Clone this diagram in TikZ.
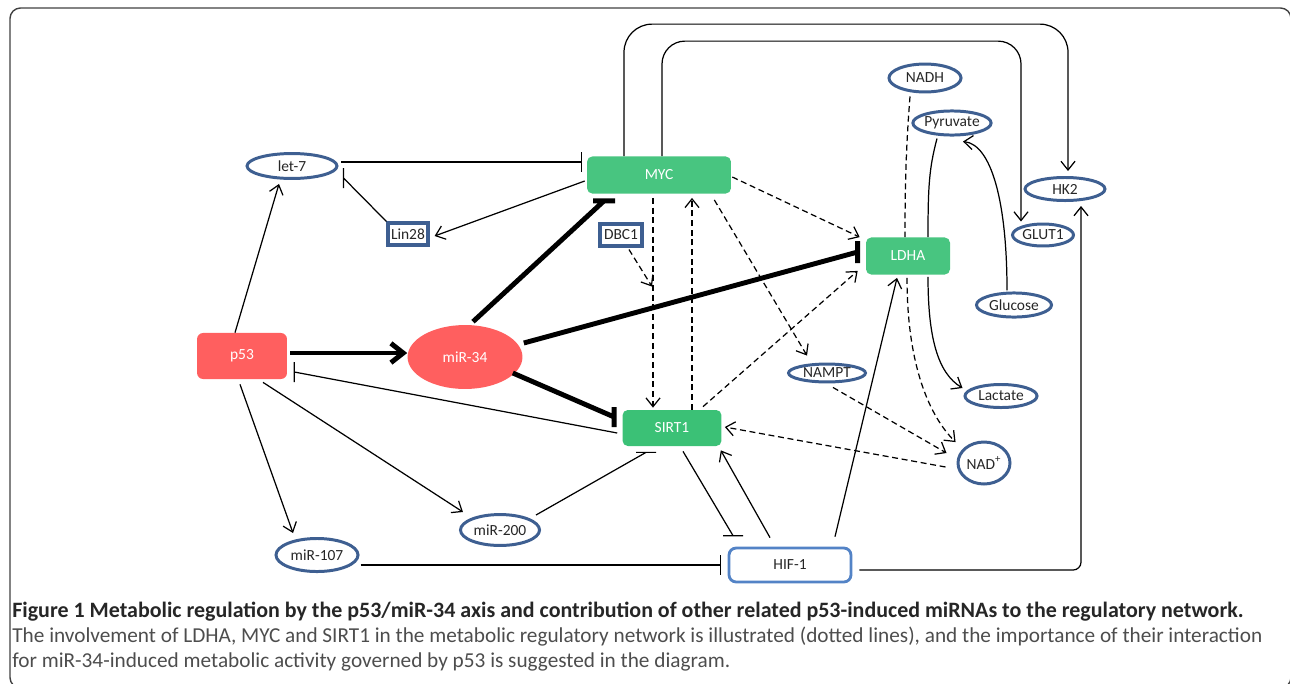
\documentclass[tikz,border=0pt]{standalone}
\usepackage{fontspec}
\setmainfont{Carlito}
\usetikzlibrary{arrows.meta,calc,shapes.geometric}
\definecolor{pred}{HTML}{FF5F5F}
\definecolor{mgreen}{HTML}{48C580}
\definecolor{sgreen}{HTML}{3BC176}
\definecolor{oblue}{HTML}{3E5F91}
\definecolor{hblue}{HTML}{5383C6}
\definecolor{capgray}{HTML}{4D4D4D}

\begin{document}
\begin{tikzpicture}[x=0.02cm,y=-0.02cm,
    font=\fontsize{8.8}{10}\selectfont,
    every node/.style={inner sep=0pt},
    redbox/.style={fill=pred,text=white,rounded corners=3.5pt},
    greenbox/.style={fill=mgreen,text=white,rounded corners=3pt},
    oval/.style={ellipse,draw=oblue,line width=1.7pt,text=black!85},
    sqbox/.style={draw=oblue,line width=1.8pt,text=black!85},
    hifbox/.style={draw=hblue,line width=1.6pt,rounded corners=4pt,text=black!85},
    link/.style={line width=0.7pt},
    act/.style={link,-{Straight Barb[length=5pt,width=8pt]}},
    dlink/.style={link,dash pattern=on 3.4pt off 2.1pt},
    dact/.style={dlink,-{Straight Barb[length=5pt,width=8pt]}},
    heavy/.style={line width=2.8pt},
    hact/.style={heavy,-{Straight Barb[length=7pt,width=11pt]}}]
  \useasboundingbox (0,0) rectangle (1290,683);
  \draw[line width=0.8pt,black!75,rounded corners=6pt] (10,8) rectangle (1291,688);
  \draw
    (242,356) node[redbox,minimum width=51.2pt,minimum height=26.2pt] (p53){p53}
    (465,357) node[ellipse,fill=pred,text=white,minimum width=65.4pt,minimum height=36.4pt] (mir34){miR-34}
    (292,166) node[oval,minimum width=51.2pt,minimum height=14.2pt] (let7){let-7}
    (408,234) node[sqbox,minimum width=22.8pt,minimum height=12.5pt] (lin28){Lin28}
    (659,175) node[greenbox,minimum width=81.9pt,minimum height=21.1pt] (myc){MYC}
    (621,235) node[sqbox,minimum width=23.9pt,minimum height=12.5pt] (dbc1){DBC1}
    (908,256) node[greenbox,minimum width=47.8pt,minimum height=21.1pt] (ldha){LDHA}
    (672,428) node[greenbox,fill=sgreen,minimum width=56.3pt,minimum height=20.5pt] (sirt1){SIRT1}
    (925,78) node[oval,minimum width=41pt,minimum height=15.9pt] (nadh){NADH}
    (952,123) node[oval,minimum width=43.8pt,minimum height=13.7pt] (pyruvate){Pyruvate}
    (1065,189) node[oval,minimum width=45.5pt,minimum height=13.1pt] (hk2){HK2}
    (1043,235) node[oval,minimum width=34.7pt,minimum height=12.5pt] (glut1){GLUT1}
    (1014,305) node[oval,minimum width=42.7pt,minimum height=13.7pt] (glucose){Glucose}
    (1001,396) node[oval,minimum width=41pt,minimum height=13.1pt] (lactate){Lactate}
    (827,373) node[oval,minimum width=43.8pt,minimum height=10.2pt] (nampt){NAMPT}
    (984,463) node[oval,minimum width=29.6pt,minimum height=23.9pt] (nad){NAD\textsuperscript{+}}
    (500,530) node[oval,minimum width=45pt,minimum height=17.6pt] (mir200){miR-200}
    (317,555) node[oval,minimum width=46.7pt,minimum height=18.8pt] (mir107){miR-107}
    (790,565) node[hifbox,minimum width=69.4pt,minimum height=19.3pt] (hif){HIF-1};
  \begin{scope}
    \draw[act] ($(p53.north)+(-7,0)$) -- ($(let7.south)+(-13,4)$);
    \draw[act] ($(p53.south)+(-2,5)$) -- ($(mir107.north)+(-24,-4)$);
    \draw[act] ($(p53.south)+(21,3)$) -- ($(mir200.west)+(4,-18)$);
    \draw[hact] ($(p53.east)+(3,-3)$) -- ($(mir34.west)+(0,-4)$);
    \draw[link] ($(let7.east)+(3,-4)$) -- ($(myc.west)+(-5,-13)$) ++(0,-10) -- ++(0,20);
    \draw[link] (lin28.north west) -- ($(let7.east)+(5,12)$) ++(0,-10) -- ++(0,20);
    \draw[act] ($(myc.west)+(-2,6)$) -- ($(lin28.east)+(5,2)$);
    \draw[heavy] ($(mir34.north)+(8,-3)$) -- ($(myc.south)+(-55,7)$) ++(-11,0) -- ++(22,0);
    \draw[heavy] ($(mir34.east)+(1,-14)$) -- ($(ldha.west)+(-8,-4)$) ++(0,-11) -- ++(0,22);
    \draw[heavy] ($(mir34.east)+(-10,16)$) -- ($(sirt1.west)+(-8,-11)$) ++(0,-10) -- ++(0,20);
    \draw[link] ($(sirt1.west)+(-5,5)$) -- ($(p53.east)+(7,16)$) ++(0,-10) -- ++(0,20);
    \draw[link] ($(mir200.east)+(-5,-15)$) -- ($(sirt1.south)+(-26,6)$) ++(-10,0) -- ++(20,0);
    \draw[link] ($(sirt1.south)+(11,5)$) -- ($(hif.north)+(-57,-11)$) ++(-10,0) -- ++(20,0);
    \draw[link] ($(mir107.east)+(1,10)$) -- ($(hif.west)+(-7,0)$) ++(0,-10) -- ++(0,20);
    \draw[act] ($(hif.north)+(-20,-9)$) -- ($(sirt1.south east)+(-1,4)$);
    \draw[act] ($(hif.north)+(45,-10)$) -- ($(ldha.south)+(-11,3)$);
    \draw[act,rounded corners=4.5pt] ($(hif.east)+(7,5)$) -| ($(hk2.south)+(16,4)$);
    \draw[act,rounded corners=13pt] ($(myc.north)+(3,0)$) -- ++(0,-115) -| ($(glut1.north)+(-22,-1)$);
    \draw[act,rounded corners=16pt] ($(myc.north)+(-35,0)$) -- ++(0,-132) -| ($(hk2.north)+(3,-5)$);
    \draw[dact] ($(myc.south)+(-6,4)$) -- ($(sirt1.north)+(-19,-2)$);
    \draw[dact] ($(sirt1.north)+(20,0)$) -- ($(myc.south)+(33,4)$);
    \draw[dact] ($(dbc1.south)+(8,2)$) -- ($(dbc1.south)+(31,39)$);
    \draw[dact] ($(myc.south east)+(-17,6)$) -- ($(nampt.north)+(-20,-7)$);
    \draw[dact] ($(myc.east)+(1,2)$) -- ($(ldha.north west)+(-6,0)$);
    \draw[dact] ($(sirt1.north)+(31,-3)$) -- ($(ldha.south west)+(-8,-4)$);
    \draw[dact] ($(nad.west)+(-11,4)$) -- ($(sirt1.east)+(3,-1)$);
    \draw[dact] ($(nampt.south)+(6,4)$) -- ($(nad.west)+(-10,-10)$);
    \draw[dlink] ($(nadh.south)+(-15,3)$) .. controls +(-4,50) and +(0,-50) .. ($(ldha.north)+(-3,0)$);
    \draw[dact] ($(ldha.south)+(-1,3)$) .. controls +(0,90) and +(-25,-25) .. ($(nad.north west)+(-9,-5)$);
    \draw[link] ($(pyruvate.south)+(-15,2)$) .. controls +(-8,30) and +(0,-50) .. ($(ldha.north)+(20,0)$);
    \draw[act] ($(ldha.south)+(20,2)$) .. controls +(0,60) and +(-25,-15) .. ($(lactate.west)+(-1,-8)$);
    \draw[act] ($(glucose.north)+(-7,-1)$) .. controls +(0,-90) and +(28,3) .. ($(pyruvate.south)+(11,5)$);
  \end{scope}
  \node[anchor=west,font=\fontsize{12.5}{14}\selectfont\bfseries,text=black!85] (cap1) at (12,612)
    {Figure 1 Metabolic regulation by the p53/miR-34 axis and contribution of other related p53-induced miRNAs to the regulatory network.};
  \node[anchor=west,font=\fontsize{12.1}{14}\selectfont,text=capgray] (cap2) at (12,637)
    {The involvement of LDHA, MYC and SIRT1 in the metabolic regulatory network is illustrated (dotted lines), and the importance of their interaction};
  \node[anchor=west,font=\fontsize{12.1}{14}\selectfont,text=capgray] (cap3) at (12,662)
    {for miR-34-induced metabolic activity governed by p53 is suggested in the diagram.};
\end{tikzpicture}
\end{document}
